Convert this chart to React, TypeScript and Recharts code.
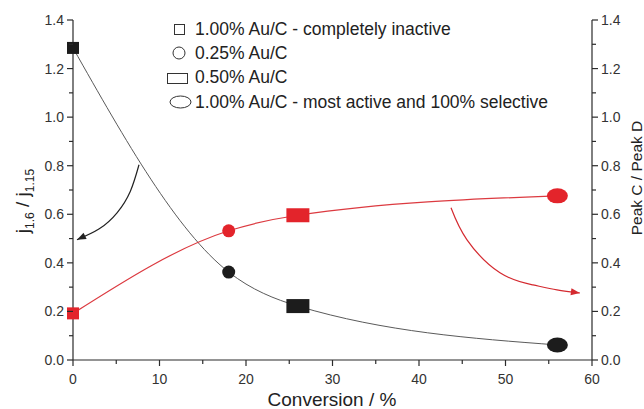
import { LineChart, Line, XAxis, YAxis } from "recharts";

// conversion (%) of each catalyst sample
const conversion = [0, 18, 26, 56];
// j1.6 / j1.15 (left axis, black)
const currentRatio = [1.285, 0.362, 0.222, 0.062];
// Peak C / Peak D (right axis, red)
const peakRatio = [0.192, 0.532, 0.596, 0.676];
// marker used for each sample, same order as conversion
const markerShapes = ["square", "circle", "rect", "ellipse"];

const legendLabels = [
  "1.00% Au/C - completely inactive",
  "0.25% Au/C",
  "0.50% Au/C",
  "1.00% Au/C - most active and 100% selective",
];

const xTicks = [0, 5, 10, 15, 20, 25, 30, 35, 40, 45, 50, 55, 60];
const yTicks = [0, 0.1, 0.2, 0.3, 0.4, 0.5, 0.6, 0.7, 0.8, 0.9, 1.0, 1.1, 1.2, 1.3, 1.4];

// annotation arrows, in data units
const blackArrow = [
  { x: 7.63, y: 0.804 },
  { x: 6.62, y: 0.694 },
  { x: 5.09, y: 0.606 },
  { x: 3.04, y: 0.54 },
  { x: 0.46, y: 0.495 },
];
const redArrow = [
  { x: 43.7, y: 0.627 },
  { x: 45.55, y: 0.495 },
  { x: 49.36, y: 0.359 },
  { x: 53.18, y: 0.309 },
  { x: 55.95, y: 0.289 },
  { x: 58.6, y: 0.276 },
];

const blackData = conversion.map((x, i) => ({ x, y: currentRatio[i] }));
const redData = conversion.map((x, i) => ({ x, y: peakRatio[i] }));

const FONT = "'Liberation Sans', Arial, Helvetica, sans-serif";
const AXIS = "#2b2b2b";
const RED = "#e3242b";

function isMajor(v: number, step: number) {
  const r = v / step;
  return Math.abs(r - Math.round(r)) < 1e-6;
}

function Marker(props: any) {
  const { cx, cy, index, color } = props;
  if (cx == null || cy == null) return <g key={`m-${index}`} />;
  const shape = markerShapes[index];
  if (shape === "square")
    return <rect key={`m-${index}`} x={cx - 6} y={cy - 6} width={12} height={12} fill={color} />;
  if (shape === "circle")
    return <circle key={`m-${index}`} cx={cx} cy={cy} r={6.5} fill={color} />;
  if (shape === "rect")
    return <rect key={`m-${index}`} x={cx - 11.5} y={cy - 7} width={23} height={14} fill={color} />;
  return <ellipse key={`m-${index}`} cx={cx} cy={cy} rx={10.5} ry={7.5} fill={color} />;
}

function ArrowHead(props: any) {
  const { cx, cy, index, points, color } = props;
  if (!points || index !== points.length - 1) return <g key={`a-${index}`} />;
  const prev = points[index - 1];
  const ang = Math.atan2(cy - prev.y, cx - prev.x);
  const len = 9;
  const half = 3.5;
  const bx = cx - len * Math.cos(ang);
  const by = cy - len * Math.sin(ang);
  const px = -Math.sin(ang) * half;
  const py = Math.cos(ang) * half;
  return (
    <polygon
      key={`a-${index}`}
      points={`${cx},${cy} ${bx + px},${by + py} ${bx - px},${by - py}`}
      fill={color}
    />
  );
}

function XTick(props: any) {
  const { x, y, payload } = props;
  const major = isMajor(payload.value, 10);
  return (
    <g>
      <line x1={x} y1={y} x2={x} y2={y + (major ? 6 : 4)} stroke={AXIS} strokeWidth={1.2} />
      {major && (
        <text x={x} y={y + 24} textAnchor="middle" fontSize={14} fill="#333" fontFamily={FONT}>
          {payload.value}
        </text>
      )}
    </g>
  );
}

function YTick(props: any) {
  const { x, y, payload, side } = props;
  const major = isMajor(payload.value, 0.2);
  const dir = side === "left" ? -1 : 1;
  return (
    <g>
      <line x1={x} y1={y} x2={x + dir * (major ? 6 : 4)} y2={y} stroke={AXIS} strokeWidth={1.2} />
      {major && (
        <text
          x={x + dir * 9}
          y={y + 5}
          textAnchor={side === "left" ? "end" : "start"}
          fontSize={14}
          fill="#333"
          fontFamily={FONT}
        >
          {payload.value.toFixed(1)}
        </text>
      )}
    </g>
  );
}

function LegendMark({ shape }: { shape: string }) {
  const st = { fill: "#fff", stroke: "#333", strokeWidth: 1 };
  return (
    <svg width={28} height={24} style={{ display: "block" }}>
      {shape === "square" && <rect x={8.5} y={7.5} width={10} height={10} {...st} />}
      {shape === "circle" && <circle cx={13} cy={12} r={6} {...st} />}
      {shape === "rect" && <rect x={1.5} y={7.5} width={20} height={10} {...st} />}
      {shape === "ellipse" && <ellipse cx={14.5} cy={12} rx={10.5} ry={6} {...st} />}
    </svg>
  );
}

export default function App() {
  return (
    <div style={{ position: "fixed", left: 0, top: 0, width: 644, height: 409, background: "#fff" }}>
      <LineChart width={644} height={409} margin={{ top: 20, right: 0, bottom: 0, left: 0 }}>
        <XAxis
          type="number"
          dataKey="x"
          domain={[0, 60]}
          ticks={xTicks}
          interval={0}
          height={49}
          tickSize={0}
          tickMargin={0}
          tickLine={false}
          axisLine={{ stroke: AXIS, strokeWidth: 1.2 }}
          tick={(p: any) => <XTick {...p} />}
        />
        <YAxis
          yAxisId="left"
          type="number"
          domain={[0, 1.4]}
          ticks={yTicks}
          interval={0}
          width={73}
          tickSize={0}
          tickMargin={0}
          tickLine={false}
          axisLine={{ stroke: AXIS, strokeWidth: 1.2 }}
          tick={(p: any) => <YTick {...p} side="left" />}
        />
        <YAxis
          yAxisId="right"
          orientation="right"
          type="number"
          domain={[0, 1.4]}
          ticks={yTicks}
          interval={0}
          width={52}
          tickSize={0}
          tickMargin={0}
          tickLine={false}
          axisLine={{ stroke: AXIS, strokeWidth: 1.2 }}
          tick={(p: any) => <YTick {...p} side="right" />}
        />
        <Line
          yAxisId="left"
          data={blackData}
          dataKey="y"
          type="monotone"
          stroke="#5a5a5a"
          strokeWidth={1}
          dot={(p: any) => <Marker key={`b-${p.index}`} {...p} color="#1c1c1c" />}
          activeDot={false}
          isAnimationActive={false}
        />
        <Line
          yAxisId="right"
          data={redData}
          dataKey="y"
          type="monotone"
          stroke="#dc3a40"
          strokeWidth={1.2}
          dot={(p: any) => <Marker key={`r-${p.index}`} {...p} color={RED} />}
          activeDot={false}
          isAnimationActive={false}
        />
        <Line
          yAxisId="left"
          data={blackArrow}
          dataKey="y"
          type="natural"
          stroke="#222"
          strokeWidth={1.2}
          dot={(p: any) => <ArrowHead key={`ba-${p.index}`} {...p} color="#222" />}
          activeDot={false}
          isAnimationActive={false}
        />
        <Line
          yAxisId="right"
          data={redArrow}
          dataKey="y"
          type="natural"
          stroke="#d42a30"
          strokeWidth={1.2}
          dot={(p: any) => <ArrowHead key={`ra-${p.index}`} {...p} color="#d42a30" />}
          activeDot={false}
          isAnimationActive={false}
        />
      </LineChart>
      <svg
        width={644}
        height={409}
        style={{ position: "absolute", left: 0, top: 0, pointerEvents: "none" }}
        fontFamily={FONT}
        fill="#222"
      >
        <text x={332} y={406} textAnchor="middle" fontSize={19}>
          Conversion / %
        </text>
        <text transform="translate(29,201) rotate(-90)" textAnchor="middle" fontSize={19}>
          j<tspan fontSize={12} dy={5}>1.6</tspan>
          <tspan dy={-5}> / j</tspan>
          <tspan fontSize={12} dy={5}>1.15</tspan>
        </text>
        <text transform="translate(642,178) rotate(-90)" textAnchor="middle" fontSize={15.5}>
          Peak C / Peak D
        </text>
      </svg>
      <div style={{ position: "absolute", left: 166, top: 17, fontFamily: FONT, fontSize: 17.5, color: "#222" }}>
        {legendLabels.map((label, i) => (
          <div key={label} style={{ display: "flex", alignItems: "center", height: 24.3 }}>
            <LegendMark shape={markerShapes[i]} />
            <span style={{ marginLeft: 1, whiteSpace: "nowrap" }}>{label}</span>
          </div>
        ))}
      </div>
    </div>
  );
}
